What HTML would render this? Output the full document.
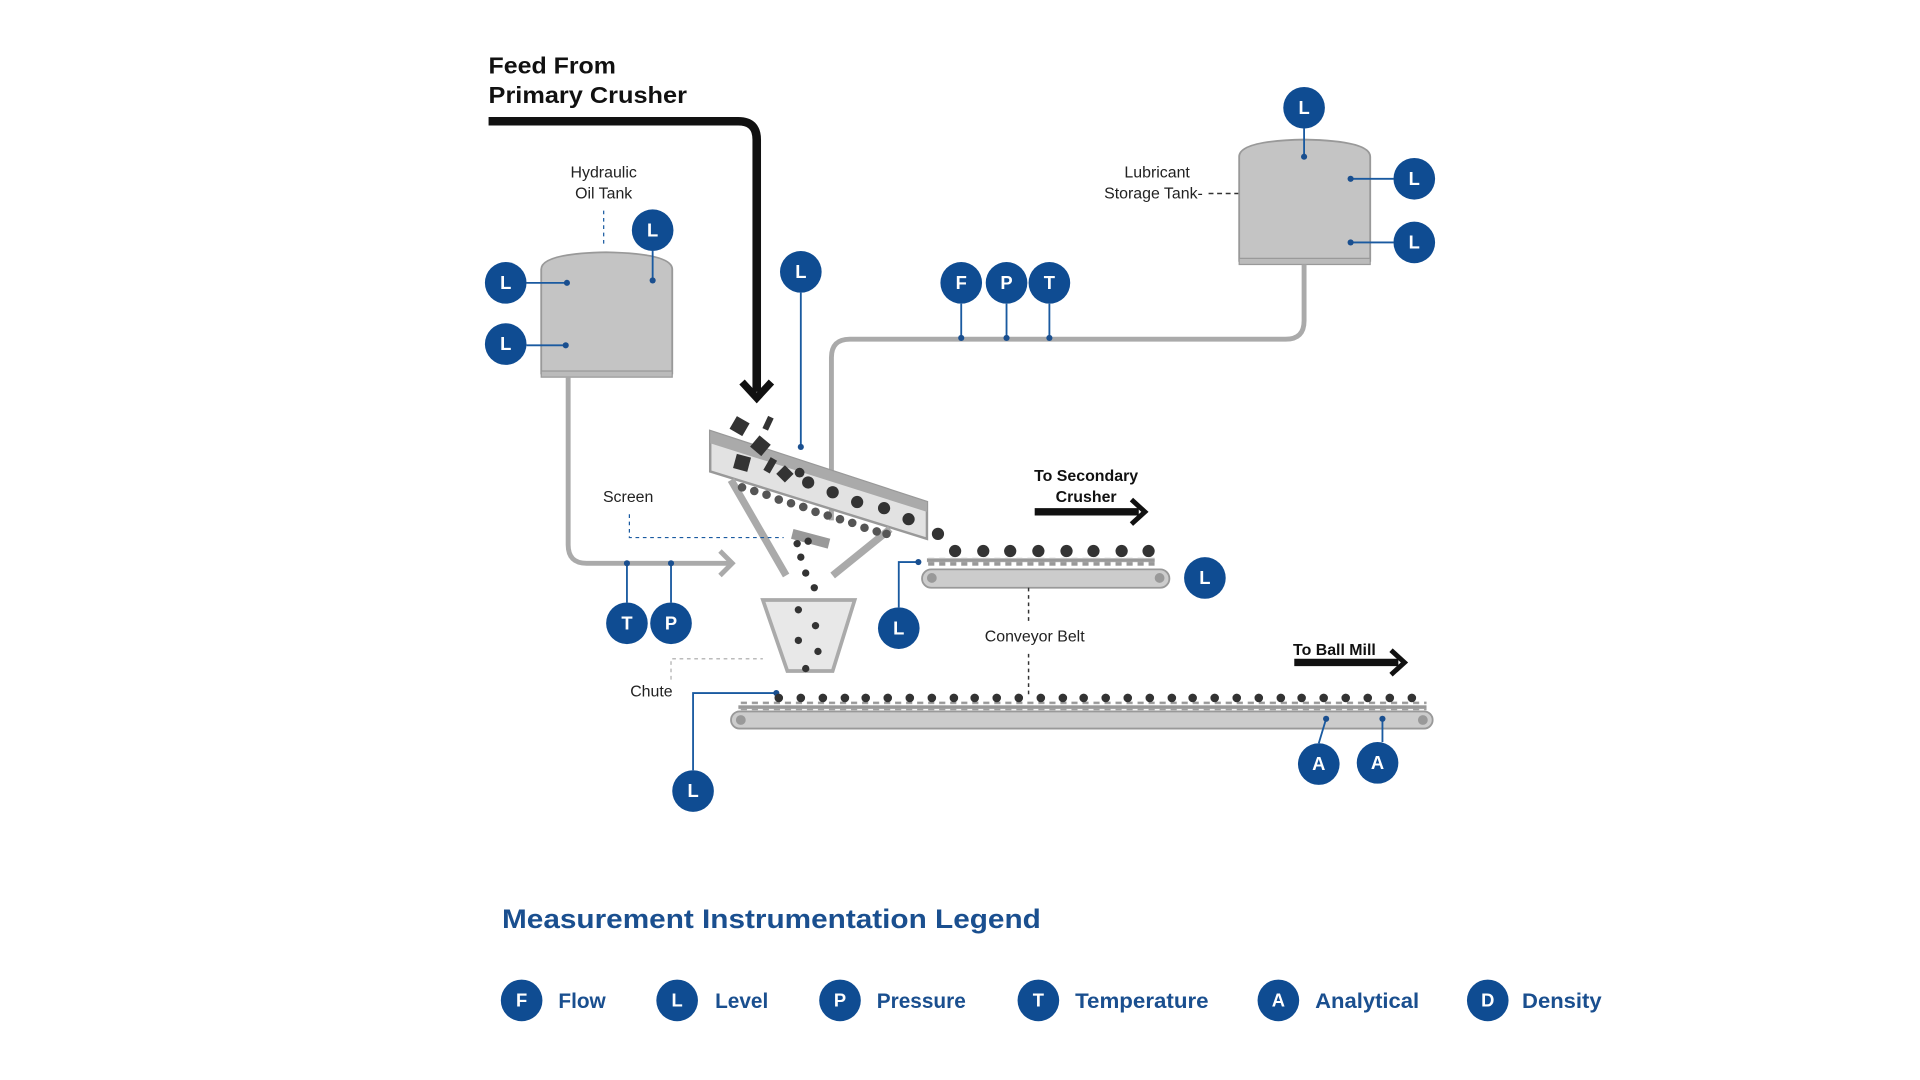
<!DOCTYPE html>
<html><head><meta charset="utf-8"><style>
html,body{margin:0;padding:0;background:#fff;}
svg{display:block;}
text{font-family:"Liberation Sans",sans-serif;}
.b{fill:#0f4c92;}
.bt{fill:#fff;font-weight:bold;font-size:15px;text-anchor:middle;}
.lbl{font-size:13px;fill:#222;text-anchor:middle;}
.ln{stroke:#1a5aa0;stroke-width:1.5;fill:none;}
.dot{fill:#1a4f8f;}
.pipe{stroke:#aaa;stroke-width:4;fill:none;}
.leg{fill:#1a4f8f;font-weight:bold;font-size:17px;}
</style></head><body>
<svg width="1920" height="1080" viewBox="0 0 1568 882" xmlns="http://www.w3.org/2000/svg">
<defs>
<pattern id="teeth" x="0" y="0" width="9" height="8" patternUnits="userSpaceOnUse"><rect x="0" y="0" width="9" height="3" fill="#999"/><rect x="2" y="3" width="5" height="4" fill="#999"/></pattern>
</defs>
<!-- Feed text -->
<text x="399" y="60" font-size="19" font-weight="bold" fill="#111" textLength="104" lengthAdjust="spacingAndGlyphs">Feed From</text>
<text x="399" y="84" font-size="19" font-weight="bold" fill="#111" textLength="162" lengthAdjust="spacingAndGlyphs">Primary Crusher</text>
<path d="M399 99 H603 Q618 99 618 114 V320" stroke="#111" stroke-width="7" fill="none"/>
<polyline points="606,312 618,325 630,312" stroke="#111" stroke-width="6" fill="none"/>

<!-- Hydraulic tank -->
<text class="lbl" x="493" y="145">Hydraulic</text>
<text class="lbl" x="493" y="162">Oil Tank</text>
<line x1="493" y1="172" x2="493" y2="202" stroke="#1a5aa0" stroke-width="1" stroke-dasharray="3,3"/>
<path d="M442 305 V220 Q442 207 495 206 Q549 207 549 220 V305 Z" fill="#c4c4c4" stroke="#999" stroke-width="1.5"/>
<rect x="442" y="303" width="107" height="5" fill="#bbb" stroke="#999"/>
<path class="pipe" d="M464 308 V445 Q464 460 479 460 H598"/>
<polyline points="588,450 598,460 588,470" stroke="#aaa" stroke-width="4" fill="none"/>

<!-- Lubricant tank -->
<text class="lbl" x="945" y="145">Lubricant</text>
<text class="lbl" x="942" y="162">Storage Tank-</text>
<line x1="987" y1="158" x2="1017" y2="158" stroke="#333" stroke-width="1.2" stroke-dasharray="4,3"/>
<path d="M1012 213 V128 Q1012 115 1065 114 Q1119 115 1119 128 V213 Z" fill="#c4c4c4" stroke="#999" stroke-width="1.5"/>
<rect x="1012" y="211" width="107" height="5" fill="#bbb" stroke="#999"/>
<path class="pipe" d="M1065 216 V262 Q1065 277 1050 277 H694 Q679 277 679 292 V425"/>

<!-- screen trough -->
<polygon points="580,352 757,410 757,440 580,385" fill="#e2e2e2" stroke="#999" stroke-width="2"/>
<polygon points="580,352 757,410 757,418 580,362" fill="#aaa"/>
<line x1="597" y1="392" x2="642" y2="470" stroke="#aaa" stroke-width="6"/>
<line x1="727" y1="432" x2="680" y2="470" stroke="#aaa" stroke-width="6"/>
<polygon points="648,432 678,440 676,448 646,440" fill="#999"/>
<g fill="#555">
<circle cx="606" cy="398" r="3.5"/><circle cx="616" cy="401" r="3.5"/><circle cx="626" cy="404" r="3.5"/><circle cx="636" cy="408" r="3.5"/><circle cx="646" cy="411" r="3.5"/><circle cx="656" cy="414" r="3.5"/><circle cx="666" cy="418" r="3.5"/><circle cx="676" cy="421" r="3.5"/><circle cx="686" cy="424" r="3.5"/><circle cx="696" cy="427" r="3.5"/><circle cx="706" cy="431" r="3.5"/><circle cx="716" cy="434" r="3.5"/><circle cx="724" cy="436" r="3.5"/>
</g>
<g fill="#333">
<rect x="598" y="342" width="12" height="12" transform="rotate(30 604 348)"/>
<rect x="625" y="340" width="5" height="11" transform="rotate(25 627 345)"/>
<rect x="615" y="358" width="12" height="12" transform="rotate(40 621 364)"/>
<rect x="600" y="372" width="12" height="12" transform="rotate(15 606 378)"/>
<rect x="626" y="374" width="6" height="12" transform="rotate(30 629 380)"/>
<rect x="636" y="382" width="10" height="10" transform="rotate(45 641 387)"/>
<circle cx="653" cy="386" r="4"/><circle cx="660" cy="394" r="5"/><circle cx="680" cy="402" r="5"/>
<circle cx="700" cy="410" r="5"/><circle cx="722" cy="415" r="5"/><circle cx="742" cy="424" r="5"/>
<circle cx="766" cy="436" r="5"/>
<circle cx="651" cy="444" r="3"/><circle cx="660" cy="442" r="3"/><circle cx="654" cy="455" r="3"/><circle cx="658" cy="468" r="3"/><circle cx="665" cy="480" r="3"/>
</g>
<!-- chute -->
<polygon points="623,490 698,490 680,548 643,548" fill="#e8e8e8" stroke="#aaa" stroke-width="3"/>
<g fill="#333"><circle cx="652" cy="498" r="3"/><circle cx="666" cy="511" r="3"/><circle cx="652" cy="523" r="3"/><circle cx="668" cy="532" r="3"/><circle cx="658" cy="546" r="3"/></g>

<!-- upper conveyor -->
<rect x="757" y="455" width="186" height="7" fill="url(#teeth)"/>
<rect x="753" y="465" width="202" height="15" rx="7.5" fill="#ccc" stroke="#999" stroke-width="1.5"/>
<circle cx="761" cy="472" r="4" fill="#999"/><circle cx="947" cy="472" r="4" fill="#999"/>
<g fill="#333">
<circle cx="780" cy="450" r="5"/><circle cx="803" cy="450" r="5"/><circle cx="825" cy="450" r="5"/><circle cx="848" cy="450" r="5"/><circle cx="871" cy="450" r="5"/><circle cx="893" cy="450" r="5"/><circle cx="916" cy="450" r="5"/><circle cx="938" cy="450" r="5"/>
</g>
<text x="887" y="393" font-size="13" font-weight="bold" text-anchor="middle" fill="#111">To Secondary</text>
<text x="887" y="410" font-size="13" font-weight="bold" text-anchor="middle" fill="#111">Crusher</text>
<line x1="845" y1="418" x2="930" y2="418" stroke="#111" stroke-width="6"/>
<polyline points="924,408 935,418 924,428" stroke="#111" stroke-width="4" fill="none"/>
<line x1="840" y1="480" x2="840" y2="508" stroke="#333" stroke-width="1.2" stroke-dasharray="3,3"/>
<line x1="840" y1="534" x2="840" y2="570" stroke="#333" stroke-width="1.2" stroke-dasharray="3,3"/>
<text class="lbl" x="845" y="524">Conveyor Belt</text>

<!-- lower conveyor -->
<rect x="603" y="573" width="562" height="7" fill="url(#teeth)"/>
<rect x="597" y="581" width="573" height="14" rx="7" fill="#ccc" stroke="#999" stroke-width="1.5"/>
<circle cx="605" cy="588" r="4" fill="#999"/><circle cx="1162" cy="588" r="4" fill="#999"/>
<text x="1056" y="535" font-size="13" font-weight="bold" fill="#111">To Ball Mill</text>
<line x1="1057" y1="541" x2="1142" y2="541" stroke="#111" stroke-width="6"/>
<polyline points="1136,531 1147,541 1136,551" stroke="#111" stroke-width="4" fill="none"/>

<!-- chute / screen labels -->
<text class="lbl" x="532" y="569">Chute</text>
<polyline points="548,555 548,538 623,538" stroke="#bbb" stroke-width="1.2" stroke-dasharray="3,3" fill="none"/>
<text class="lbl" x="513" y="410">Screen</text>
<polyline points="514,420 514,439 640,439" stroke="#1a5aa0" stroke-width="1" stroke-dasharray="3,3" fill="none"/>

<!-- instrument lines -->
<g class="ln">
<line x1="430" y1="231" x2="463" y2="231"/><line x1="430" y1="282" x2="462" y2="282"/>
<line x1="533" y1="205" x2="533" y2="229"/>
<line x1="512" y1="492" x2="512" y2="460"/><line x1="548" y1="492" x2="548" y2="460"/>
<line x1="1065" y1="105" x2="1065" y2="128"/><line x1="1138" y1="146" x2="1103" y2="146"/><line x1="1138" y1="198" x2="1103" y2="198"/>
<line x1="785" y1="248" x2="785" y2="276"/><line x1="822" y1="248" x2="822" y2="276"/><line x1="857" y1="248" x2="857" y2="276"/>
<line x1="654" y1="239" x2="654" y2="365"/>
<polyline points="734,496 734,459 750,459"/>
<line x1="1077" y1="607" x2="1083" y2="587"/><line x1="1129" y1="606" x2="1129" y2="587"/>
<polyline points="566,629 566,566 634,566"/>
</g>
<g class="dot">
<circle cx="463" cy="231" r="2.5"/><circle cx="462" cy="282" r="2.5"/><circle cx="533" cy="229" r="2.5"/>
<circle cx="512" cy="460" r="2.5"/><circle cx="548" cy="460" r="2.5"/>
<circle cx="1065" cy="128" r="2.5"/><circle cx="1103" cy="146" r="2.5"/><circle cx="1103" cy="198" r="2.5"/>
<circle cx="785" cy="276" r="2.5"/><circle cx="822" cy="276" r="2.5"/><circle cx="857" cy="276" r="2.5"/>
<circle cx="654" cy="365" r="2.5"/><circle cx="750" cy="459" r="2.5"/>
<circle cx="1083" cy="587" r="2.5"/><circle cx="1129" cy="587" r="2.5"/><circle cx="634" cy="566" r="2.5"/>
</g>

<!-- badges -->
<g>
<circle class="b" cx="533" cy="188" r="17"/><text class="bt" x="533" y="193">L</text>
<circle class="b" cx="413" cy="231" r="17"/><text class="bt" x="413" y="236">L</text>
<circle class="b" cx="413" cy="281" r="17"/><text class="bt" x="413" y="286">L</text>
<circle class="b" cx="512" cy="509" r="17"/><text class="bt" x="512" y="514">T</text>
<circle class="b" cx="548" cy="509" r="17"/><text class="bt" x="548" y="514">P</text>
<circle class="b" cx="654" cy="222" r="17"/><text class="bt" x="654" y="227">L</text>
<circle class="b" cx="785" cy="231" r="17"/><text class="bt" x="785" y="236">F</text>
<circle class="b" cx="822" cy="231" r="17"/><text class="bt" x="822" y="236">P</text>
<circle class="b" cx="857" cy="231" r="17"/><text class="bt" x="857" y="236">T</text>
<circle class="b" cx="1065" cy="88" r="17"/><text class="bt" x="1065" y="93">L</text>
<circle class="b" cx="1155" cy="146" r="17"/><text class="bt" x="1155" y="151">L</text>
<circle class="b" cx="1155" cy="198" r="17"/><text class="bt" x="1155" y="203">L</text>
<circle class="b" cx="984" cy="472" r="17"/><text class="bt" x="984" y="477">L</text>
<circle class="b" cx="734" cy="513" r="17"/><text class="bt" x="734" y="518">L</text>
<circle class="b" cx="566" cy="646" r="17"/><text class="bt" x="566" y="651">L</text>
<circle class="b" cx="1077" cy="624" r="17"/><text class="bt" x="1077" y="629">A</text>
<circle class="b" cx="1125" cy="623" r="17"/><text class="bt" x="1125" y="628">A</text>
</g>

<!-- legend -->
<text x="410" y="758" font-size="22" font-weight="bold" fill="#1a4f8f" textLength="440" lengthAdjust="spacingAndGlyphs">Measurement Instrumentation Legend</text>
<circle class="b" cx="426" cy="817" r="17"/><text class="bt" x="426" y="822">F</text><text class="leg" x="456" y="823">Flow</text>
<circle class="b" cx="553" cy="817" r="17"/><text class="bt" x="553" y="822">L</text><text class="leg" x="584" y="823">Level</text>
<circle class="b" cx="686" cy="817" r="17"/><text class="bt" x="686" y="822">P</text><text class="leg" x="716" y="823">Pressure</text>
<circle class="b" cx="848" cy="817" r="17"/><text class="bt" x="848" y="822">T</text><text class="leg" x="878" y="823" textLength="109" lengthAdjust="spacingAndGlyphs">Temperature</text>
<circle class="b" cx="1044" cy="817" r="17"/><text class="bt" x="1044" y="822">A</text><text class="leg" x="1074" y="823" textLength="85" lengthAdjust="spacingAndGlyphs">Analytical</text>
<circle class="b" cx="1215" cy="817" r="17"/><text class="bt" x="1215" y="822">D</text><text class="leg" x="1243" y="823" textLength="65" lengthAdjust="spacingAndGlyphs">Density</text>

<!-- lower conveyor balls -->
<g fill="#333">
<circle cx="636" cy="570" r="3.5"/><circle cx="654" cy="570" r="3.5"/><circle cx="672" cy="570" r="3.5"/><circle cx="690" cy="570" r="3.5"/><circle cx="707" cy="570" r="3.5"/><circle cx="725" cy="570" r="3.5"/><circle cx="743" cy="570" r="3.5"/><circle cx="761" cy="570" r="3.5"/><circle cx="779" cy="570" r="3.5"/><circle cx="796" cy="570" r="3.5"/><circle cx="814" cy="570" r="3.5"/><circle cx="832" cy="570" r="3.5"/><circle cx="850" cy="570" r="3.5"/><circle cx="868" cy="570" r="3.5"/><circle cx="885" cy="570" r="3.5"/><circle cx="903" cy="570" r="3.5"/><circle cx="921" cy="570" r="3.5"/><circle cx="939" cy="570" r="3.5"/><circle cx="957" cy="570" r="3.5"/><circle cx="974" cy="570" r="3.5"/><circle cx="992" cy="570" r="3.5"/><circle cx="1010" cy="570" r="3.5"/><circle cx="1028" cy="570" r="3.5"/><circle cx="1046" cy="570" r="3.5"/><circle cx="1063" cy="570" r="3.5"/><circle cx="1081" cy="570" r="3.5"/><circle cx="1099" cy="570" r="3.5"/><circle cx="1117" cy="570" r="3.5"/><circle cx="1135" cy="570" r="3.5"/><circle cx="1153" cy="570" r="3.5"/>
</g>
</svg>
</body></html>
